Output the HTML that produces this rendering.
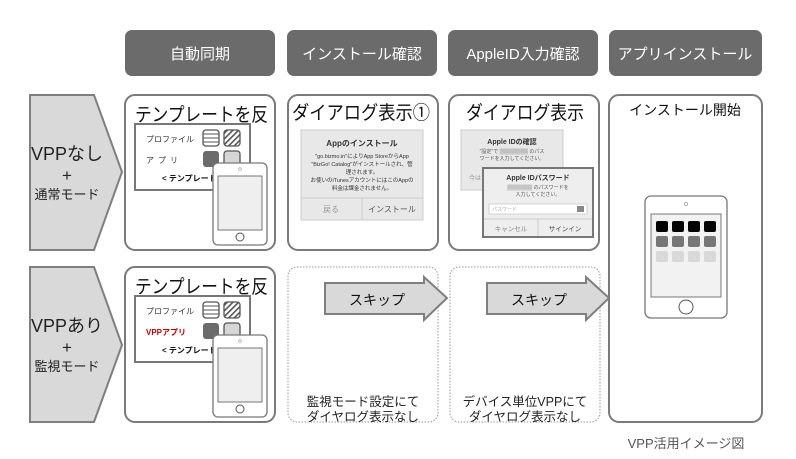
<!DOCTYPE html>
<html><head><meta charset="utf-8"><style>
body{margin:0;background:#fff}
svg{display:block}
text{font-family:"Liberation Sans","Noto Sans CJK JP",sans-serif}
</style></head><body>
<svg width="796" height="459" viewBox="0 0 796 459" xmlns="http://www.w3.org/2000/svg">
<defs>
<pattern id="h" width="4" height="4" patternUnits="userSpaceOnUse" patternTransform="rotate(45)"><rect width="4" height="4" fill="#fff"/><rect width="1.6" height="4" fill="#555"/></pattern>
</defs>
<g fill="#6b6b6b">
<rect x="125" y="30" width="150" height="46" rx="7"/>
<rect x="287" y="30" width="150" height="46" rx="7"/>
<rect x="448" y="30" width="150" height="46" rx="7"/>
<rect x="609" y="30" width="153" height="46" rx="7"/>
</g>
<g fill="#fff" font-size="15" text-anchor="middle">
<text x="200" y="59">自動同期</text>
<text x="362" y="59">インストール確認</text>
<text x="523" y="59">AppleID入力確認</text>
<text x="685" y="59">アプリインストール</text>
</g>
<g fill="#d9d9d9" stroke="#7f7f7f" stroke-width="2">
<polygon points="30,95 94,95 122,172 94,250 30,250"/>
<polygon points="30,267 94,267 122,345 94,422 30,422"/>
</g>
<g fill="#222" text-anchor="middle">
<text x="67" y="160" font-size="18">VPPなし</text>
<text x="67" y="181" font-size="17">+</text>
<text x="67" y="199" font-size="13">通常モード</text>
<text x="67" y="332" font-size="18">VPPあり</text>
<text x="67" y="353" font-size="17">+</text>
<text x="67" y="371" font-size="13">監視モード</text>
</g>
<g fill="#fff" stroke="#7a7a7a" stroke-width="2">
<rect x="125" y="95" width="150" height="155" rx="10"/>
<rect x="288" y="95" width="150" height="155" rx="10"/>
<rect x="449" y="95" width="150" height="155" rx="10"/>
<rect x="609" y="95" width="153" height="327" rx="10"/>
<rect x="125" y="267" width="150" height="155" rx="10"/>
</g>
<g fill="none" stroke="#999" stroke-width="1" stroke-dasharray="1.5,1.5">
<rect x="288" y="267" width="150" height="155" rx="9"/>
<rect x="450" y="267" width="150" height="155" rx="9"/>
</g>
<g id="tpl">
<text x="135" y="121" font-size="19" textLength="133" lengthAdjust="spacingAndGlyphs" fill="#111">テンプレートを反</text>
<rect x="135" y="124" width="115" height="66" fill="#fff" stroke="#777" stroke-width="2"/>
<text x="146" y="142" font-size="8" fill="#333">プロファイル</text>
<rect x="203" y="130" width="16" height="16" rx="3" fill="#fff" stroke="#555" stroke-width="1.3"/>
<g stroke="#555" stroke-width="1"><line x1="203" y1="134" x2="219" y2="134"/><line x1="203" y1="138" x2="219" y2="138"/><line x1="203" y1="142" x2="219" y2="142"/></g>
<rect x="224" y="130" width="16" height="16" rx="3" fill="url(#h)" stroke="#555" stroke-width="1.3"/>
<rect x="203" y="151" width="16" height="16" rx="3" fill="#6b6b6b"/>
<rect x="224" y="151" width="16" height="16" rx="3" fill="#d6d6d6" stroke="#555" stroke-width="1.3"/>
<text x="162" y="181" font-size="8" font-weight="bold" fill="#111">&lt; テンプレート</text>
<rect x="213" y="163" width="54" height="82" rx="5" fill="#fff" stroke="#777" stroke-width="1.3"/>
<circle cx="240" cy="169" r="1.3" fill="none" stroke="#999" stroke-width="0.7"/>
<rect x="218" y="176" width="44" height="54" fill="#efefef" stroke="#777" stroke-width="1"/>
<circle cx="240" cy="237" r="4" fill="#fff" stroke="#555" stroke-width="1"/>
</g>
<text x="146" y="163" font-size="8" fill="#333" letter-spacing="4">アプリ</text>
<use href="#tpl" y="172"/>
<text x="146" y="335" font-size="8" font-weight="bold" fill="#c00000">VPPアプリ</text>
<text x="292" y="119" font-size="19" textLength="138" lengthAdjust="spacingAndGlyphs" fill="#111">ダイアログ表示①</text>
<rect x="301" y="130" width="122" height="90" fill="#e8e8e8" stroke="#ccc"/>
<g text-anchor="middle" fill="#333">
<text x="362" y="146" font-size="8" font-weight="bold">Appのインストール</text>
<text x="362" y="158" font-size="5.5">"go.bizmo.in"によりApp StoreからApp</text>
<text x="362" y="166" font-size="5.5">"BizGo! Catalog"がインストールされ、管</text>
<text x="362" y="174" font-size="5.5">理されます。</text>
<text x="362" y="182" font-size="5.5">お使いのiTunesアカウントにはこのAppの</text>
<text x="362" y="190" font-size="5.5">料金は課金されません。</text>
</g>
<line x1="301" y1="198" x2="423" y2="198" stroke="#ccc"/><line x1="362" y1="198" x2="362" y2="220" stroke="#ccc"/>
<text x="331" y="212" font-size="8" fill="#999" text-anchor="middle">戻る</text>
<text x="392" y="212" font-size="8" fill="#555" text-anchor="middle">インストール</text>
<text x="466" y="119" font-size="19" textLength="118" lengthAdjust="spacingAndGlyphs" fill="#111">ダイアログ表示</text>
<rect x="461" y="130" width="102" height="60" fill="#e8e8e8" stroke="#ccc"/>
<text x="512" y="144" font-size="7" font-weight="bold" text-anchor="middle" fill="#333">Apple IDの確認</text>
<text x="512" y="153" font-size="5" text-anchor="middle" fill="#555">"設定"で ▒▒▒▒▒▒▒▒ のパス</text>
<text x="512" y="160" font-size="5" text-anchor="middle" fill="#555">ワードを入力してください。</text>
<text x="469" y="180" font-size="6" fill="#999">今は</text>
<rect x="483" y="168" width="110" height="69" fill="#eee" stroke="#777" stroke-width="2"/>
<text x="538" y="180" font-size="7" font-weight="bold" text-anchor="middle" fill="#333">Apple IDパスワード</text>
<text x="538" y="189" font-size="5" text-anchor="middle" fill="#555">▒▒▒▒▒▒▒ のパスワードを</text>
<text x="538" y="196" font-size="5" text-anchor="middle" fill="#555">入力してください。</text>
<rect x="489" y="204" width="98" height="10" fill="#fff" stroke="#bbb" stroke-width="0.6"/>
<text x="492" y="211" font-size="5" fill="#aaa">パスワード</text>
<rect x="577" y="206" width="7" height="6" fill="#888"/>
<line x1="484" y1="219" x2="592" y2="219" stroke="#ccc"/><line x1="538" y1="219" x2="538" y2="236" stroke="#ccc"/>
<text x="511" y="231" font-size="6.5" fill="#888" text-anchor="middle">キャンセル</text>
<text x="565" y="231" font-size="6.5" fill="#444" text-anchor="middle">サインイン</text>
<text x="685" y="115" font-size="14" text-anchor="middle" fill="#111">インストール開始</text>
<rect x="645" y="196" width="82" height="122" rx="6" fill="#fff" stroke="#777" stroke-width="1.3"/>
<circle cx="686" cy="204" r="1.6" fill="none" stroke="#999" stroke-width="0.7"/>
<rect x="651" y="214" width="70" height="83" fill="#f2f2f2" stroke="#777" stroke-width="1"/>
<g fill="#000"><rect x="656" y="221" width="12" height="11" rx="2"/><rect x="672" y="221" width="12" height="11" rx="2"/><rect x="688" y="221" width="12" height="11" rx="2"/><rect x="704" y="221" width="12" height="11" rx="2"/></g>
<g fill="#777"><rect x="656" y="236" width="12" height="11" rx="2"/><rect x="672" y="236" width="12" height="11" rx="2"/><rect x="688" y="236" width="12" height="11" rx="2"/><rect x="704" y="236" width="12" height="11" rx="2"/></g>
<g fill="#d9d9d9"><rect x="656" y="251" width="12" height="11" rx="2"/><rect x="672" y="251" width="12" height="11" rx="2"/><rect x="688" y="251" width="12" height="11" rx="2"/><rect x="704" y="251" width="12" height="11" rx="2"/></g>
<circle cx="686" cy="307" r="7" fill="#fff" stroke="#555" stroke-width="1"/>
<g fill="#d9d9d9" stroke="#7f7f7f" stroke-width="2">
<polygon points="325,283 424,283 424,277 447,298 424,320 424,314 325,314"/>
<polygon points="487,283 586,283 586,277 609,298 586,320 586,314 487,314"/>
</g>
<text x="377" y="305" font-size="14" text-anchor="middle" fill="#111">スキップ</text>
<text x="539" y="305" font-size="14" text-anchor="middle" fill="#111">スキップ</text>
<g font-size="12.5" text-anchor="middle" fill="#222">
<text x="363" y="406">監視モード設定にて</text>
<text x="363" y="421">ダイヤログ表示なし</text>
<text x="525" y="406">デバイス単位VPPにて</text>
<text x="525" y="421">ダイヤログ表示なし</text>
</g>
<text x="686" y="448" font-size="13" text-anchor="middle" fill="#555">VPP活用イメージ図</text>
</svg>
</body></html>
